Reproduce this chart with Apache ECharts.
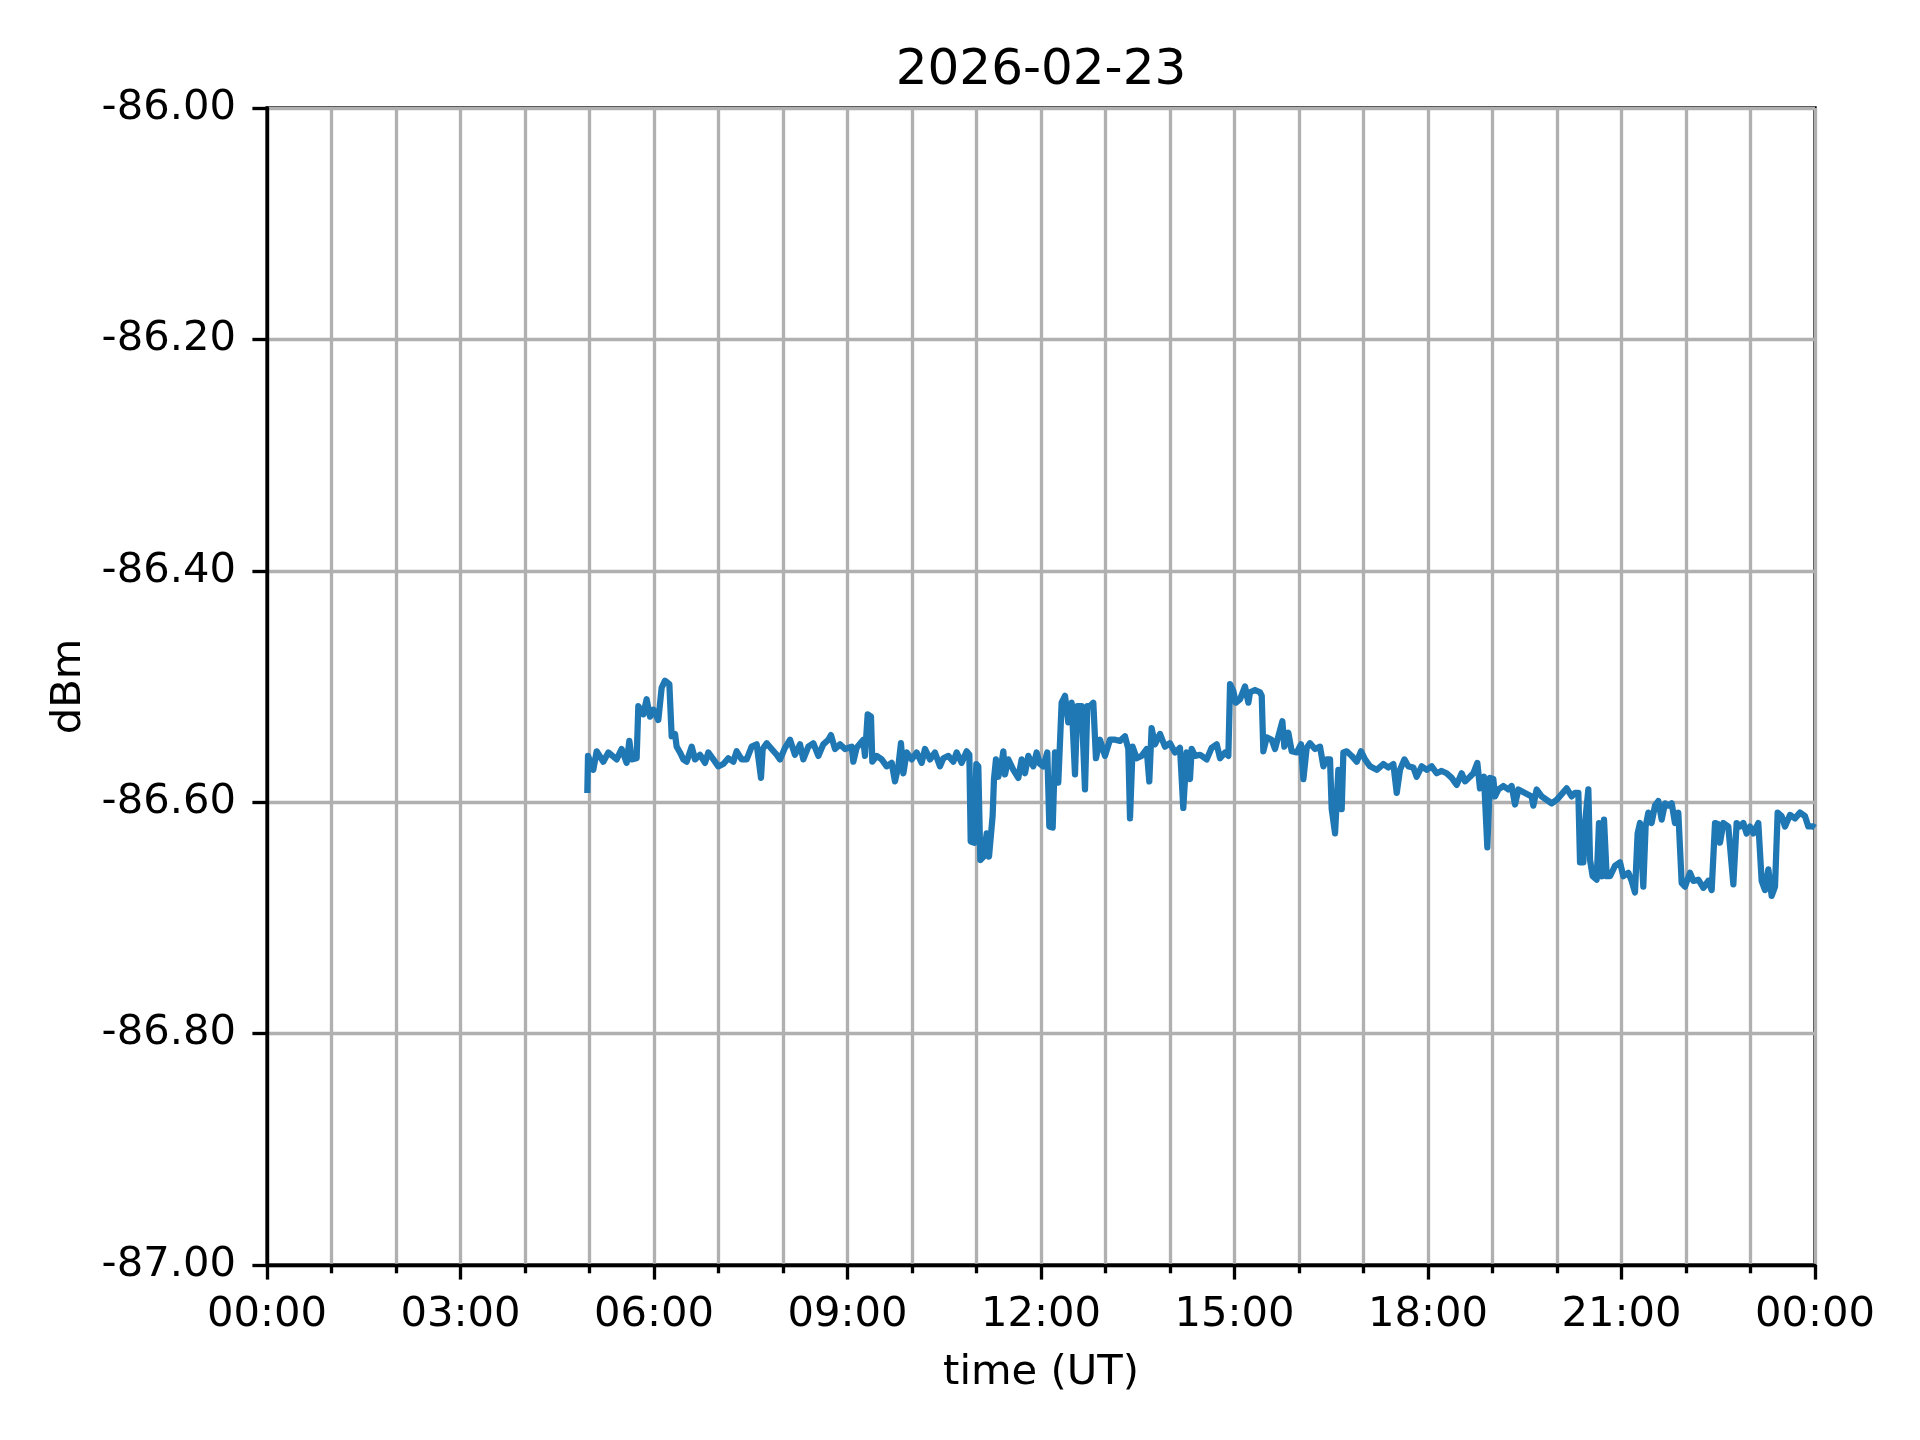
<!DOCTYPE html>
<html>
<head>
<meta charset="utf-8">
<script src="https://cdn.jsdelivr.net/npm/echarts@6/dist/echarts.min.js"></script>
<style>
html,body{margin:0;padding:0;background:#fff;}
#chart{width:1920px;height:1440px;}
</style>
</head>
<body>
<div id="chart"></div>
<script>
const chartTitle = "2026-02-23";
const xAxisName = "time (UT)";
const yAxisName = "dBm";
const yTicks = [-87.0, -86.8, -86.6, -86.4, -86.2, -86.0];
const xTickHours = [0, 3, 6, 9, 12, 15, 18, 21, 24];

const hoursUT = [
4.966,4.977,5.059,5.111,5.214,5.292,5.421,5.499,5.576,5.618,5.654,5.731,5.757,5.835,5.886,5.938,5.989,6.067,6.119,6.171,6.238,6.274,6.326,6.351,6.403,6.455,6.506,6.584,6.636,6.713,6.791,6.842,6.920,6.997,7.075,7.152,7.230,7.282,7.359,7.437,7.514,7.592,7.659,7.685,7.747,7.824,7.902,7.953,
8.031,8.109,8.186,8.264,8.315,8.393,8.470,8.548,8.625,8.703,8.744,8.806,8.884,8.961,9.065,9.090,9.142,9.245,9.271,9.313,9.364,9.385,9.452,9.530,9.607,9.685,9.736,9.788,9.829,9.866,9.917,9.995,10.072,10.150,10.201,10.279,10.356,10.434,10.486,10.563,10.641,10.692,10.770,10.848,10.889,10.910,10.966,10.997,11.028,11.059,11.111,11.158,11.194,
11.250,11.271,11.302,11.338,11.390,11.416,11.442,11.493,11.571,11.648,11.700,11.752,11.803,11.881,11.932,11.984,12.036,12.098,12.129,12.181,12.217,12.268,12.294,12.320,12.372,12.423,12.475,12.527,12.563,12.630,12.682,12.718,12.759,12.811,12.852,12.914,12.992,13.069,13.147,13.225,13.302,13.354,13.380,13.421,13.483,13.560,13.638,13.679,13.715,13.767,13.845,13.922,14.000,14.077,14.155,14.206,14.258,14.310,14.336,
14.388,14.466,14.569,14.646,14.724,14.776,14.853,14.905,14.931,14.982,15.019,15.086,15.163,15.215,15.241,15.318,15.396,15.422,15.447,15.499,15.577,15.628,15.680,15.742,15.773,15.835,15.887,15.964,16.031,16.068,16.119,16.171,16.248,16.326,16.378,16.429,16.481,16.507,16.559,16.610,16.662,16.688,16.740,16.817,16.895,16.962,17.024,17.101,17.205,17.308,17.385,17.463,17.515,17.566,17.634,
17.695,17.773,17.824,17.902,17.979,18.057,18.134,18.212,18.289,18.367,18.445,18.522,18.574,18.651,18.703,18.765,18.806,18.868,18.920,18.961,19.013,19.039,19.091,19.168,19.246,19.297,19.349,19.401,19.504,19.607,19.633,19.685,19.762,19.840,19.917,19.995,20.073,20.150,20.228,20.279,20.331,20.357,20.408,20.434,20.486,20.512,20.553,20.615,20.651,20.693,20.729,
20.770,20.822,20.899,20.977,21.028,21.106,21.157,21.209,21.250,21.287,21.338,21.374,21.416,21.467,21.519,21.571,21.623,21.674,21.726,21.778,21.829,21.881,21.933,21.984,22.062,22.114,22.191,22.269,22.346,22.398,22.450,22.501,22.527,22.579,22.656,22.734,22.785,22.837,22.889,22.940,22.992,23.044,23.121,23.173,23.225,23.277,23.328,23.380,23.421,23.483,23.535,23.612,23.690,23.767,23.845,23.896,23.974,24.0
];

const dbm = [
-86.592,-86.560,-86.572,-86.556,-86.565,-86.557,-86.563,-86.554,-86.566,-86.547,-86.563,-86.562,-86.517,-86.524,-86.511,-86.526,-86.520,-86.529,-86.501,-86.495,-86.498,-86.543,-86.541,-86.552,-86.557,-86.563,-86.565,-86.552,-86.563,-86.559,-86.566,-86.557,-86.563,-86.569,-86.567,-86.562,-86.565,-86.556,-86.563,-86.563,-86.552,-86.550,-86.579,-86.554,-86.549,-86.554,-86.559,-86.563,
-86.553,-86.546,-86.559,-86.550,-86.563,-86.552,-86.549,-86.560,-86.550,-86.546,-86.542,-86.554,-86.550,-86.554,-86.552,-86.565,-86.553,-86.546,-86.560,-86.524,-86.526,-86.565,-86.560,-86.563,-86.569,-86.566,-86.582,-86.569,-86.549,-86.575,-86.557,-86.563,-86.557,-86.566,-86.554,-86.563,-86.557,-86.569,-86.562,-86.560,-86.565,-86.557,-86.566,-86.556,-86.559,-86.634,-86.635,-86.567,-86.569,-86.650,-86.647,-86.627,-86.647,
-86.612,-86.580,-86.563,-86.578,-86.566,-86.556,-86.576,-86.563,-86.572,-86.579,-86.563,-86.575,-86.560,-86.569,-86.557,-86.567,-86.569,-86.557,-86.621,-86.622,-86.557,-86.583,-86.549,-86.514,-86.508,-86.531,-86.514,-86.576,-86.517,-86.517,-86.589,-86.517,-86.517,-86.514,-86.562,-86.546,-86.560,-86.546,-86.546,-86.547,-86.543,-86.554,-86.614,-86.552,-86.562,-86.560,-86.554,-86.582,-86.536,-86.550,-86.541,-86.552,-86.549,-86.557,-86.553,-86.605,-86.557,-86.580,-86.554,
-86.560,-86.559,-86.563,-86.553,-86.550,-86.562,-86.557,-86.560,-86.498,-86.504,-86.514,-86.511,-86.500,-86.514,-86.505,-86.503,-86.505,-86.508,-86.556,-86.544,-86.546,-86.554,-86.543,-86.530,-86.552,-86.540,-86.556,-86.557,-86.550,-86.580,-86.553,-86.549,-86.554,-86.552,-86.569,-86.563,-86.563,-86.606,-86.627,-86.572,-86.606,-86.557,-86.556,-86.560,-86.565,-86.556,-86.563,-86.569,-86.572,-86.567,-86.570,-86.567,-86.592,-86.572,-86.563,
-86.569,-86.570,-86.578,-86.569,-86.572,-86.569,-86.575,-86.573,-86.575,-86.579,-86.585,-86.575,-86.582,-86.578,-86.575,-86.566,-86.588,-86.578,-86.639,-86.579,-86.580,-86.595,-86.589,-86.586,-86.589,-86.586,-86.602,-86.589,-86.592,-86.595,-86.603,-86.589,-86.595,-86.598,-86.601,-86.598,-86.593,-86.588,-86.595,-86.592,-86.592,-86.652,-86.652,-86.618,-86.589,-86.650,-86.664,-86.667,-86.618,-86.664,-86.615,
-86.664,-86.664,-86.655,-86.652,-86.664,-86.661,-86.668,-86.678,-86.627,-86.618,-86.673,-86.621,-86.609,-86.618,-86.603,-86.599,-86.615,-86.601,-86.603,-86.601,-86.618,-86.609,-86.670,-86.673,-86.661,-86.668,-86.667,-86.674,-86.668,-86.676,-86.618,-86.619,-86.635,-86.618,-86.621,-86.671,-86.618,-86.621,-86.618,-86.627,-86.621,-86.627,-86.618,-86.668,-86.676,-86.658,-86.681,-86.673,-86.609,-86.612,-86.621,-86.611,-86.614,-86.609,-86.612,-86.621,-86.621,-86.622
];

const seriesData = hoursUT.map((h, i) => [h, dbm[i]]);

const FONT = "DejaVu Sans";
const LW = 3.33;
const chart = echarts.init(document.getElementById('chart'), null, {renderer: 'canvas'});

function hourLabel(v) {
  const h = Math.round(v) % 24;
  return (h < 10 ? '0' : '') + h + ':00';
}

chart.setOption({
  animation: false,
  backgroundColor: '#ffffff',
  title: {
    text: chartTitle,
    left: 1041,
    textAlign: 'center',
    top: 46,
    padding: 0,
    textStyle: {fontFamily: FONT, fontSize: 50, fontWeight: 'normal', color: '#000'}
  },
  grid: {
    left: 267, right: 105, top: 108, bottom: 175,
    show: true, borderColor: '#000', borderWidth: LW, backgroundColor: 'transparent'
  },
  xAxis: {
    type: 'value',
    min: 0, max: 24, interval: 3,
    name: xAxisName,
    nameLocation: 'middle',
    nameGap: 87,
    nameTextStyle: {fontFamily: FONT, fontSize: 41.7, color: '#000'},
    axisLine: {show: true, onZero: false, lineStyle: {color: '#000', width: LW}},
    axisTick: {show: true, inside: false, length: 14.6, lineStyle: {color: '#000', width: LW}},
    minorTick: {show: true, splitNumber: 3, length: 8.3, lineStyle: {color: '#000', width: LW}},
    axisLabel: {
      fontFamily: FONT, fontSize: 41.7, color: '#000', margin: 29,
      formatter: hourLabel
    },
    splitLine: {show: true, lineStyle: {color: '#b0b0b0', width: LW}},
    minorSplitLine: {show: true, lineStyle: {color: '#b0b0b0', width: LW}}
  },
  yAxis: {
    type: 'value',
    min: yTicks[0], max: yTicks[yTicks.length - 1], interval: 0.2,
    name: yAxisName,
    nameLocation: 'middle',
    nameGap: 177,
    nameRotate: 90,
    nameTextStyle: {fontFamily: FONT, fontSize: 41.7, color: '#000'},
    axisLine: {show: true, onZero: false, lineStyle: {color: '#000', width: LW}},
    axisTick: {show: true, inside: false, length: 14.6, lineStyle: {color: '#000', width: LW}},
    axisLabel: {
      fontFamily: FONT, fontSize: 41.7, color: '#000', margin: 31,
      formatter: v => v.toFixed(2)
    },
    splitLine: {show: true, lineStyle: {color: '#b0b0b0', width: LW}}
  },
  series: [{
    type: 'line',
    data: seriesData,
    showSymbol: false,
    symbol: 'none',
    clip: true,
    lineStyle: {color: '#1f77b4', width: 6.25, join: 'round', cap: 'butt'},
    z: 5
  }]
});
</script>
</body>
</html>
